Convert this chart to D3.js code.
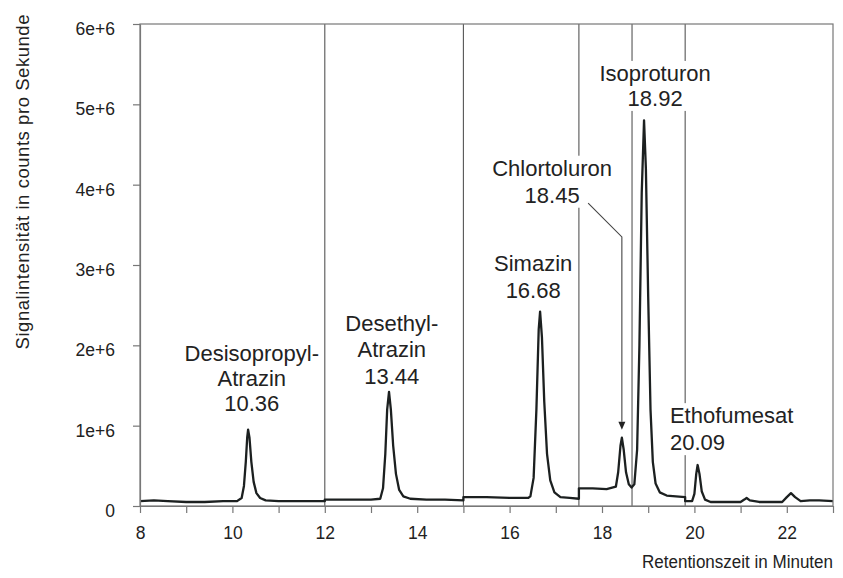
<!DOCTYPE html>
<html>
<head>
<meta charset="utf-8">
<script src="https://cdn.jsdelivr.net/npm/d3@7"></script>
<style>
  body { margin: 0; background: #fff; }
  svg { font-family: "Liberation Sans", Arial, sans-serif; }
</style>
</head>
<body>
<div id="chart"></div>
<script>

// chromatogram trace: retention time (min) and signal (in 1e6 counts/s)
const times = [
  8.00, 8.30, 8.60, 9.00, 9.40, 9.80, 10.10, 10.20, 10.25, 10.29, 10.32, 10.34, 10.37, 10.41, 10.46, 10.52, 10.60, 10.72, 11.00, 11.50, 12.00,
  12.00, 12.50, 13.00, 13.20, 13.26, 13.31, 13.35, 13.39, 13.43, 13.48, 13.54, 13.61, 13.70, 13.85, 14.20, 14.60, 15.00,
  15.00, 15.50, 16.00, 16.40, 16.45, 16.52, 16.58, 16.63, 16.66, 16.70, 16.75, 16.81, 16.88, 16.97, 17.10, 17.30, 17.50,
  17.50, 17.80, 18.10, 18.30, 18.35, 18.40, 18.43, 18.47, 18.52, 18.58, 18.64, 18.70, 18.76, 18.81, 18.86, 18.91, 18.95, 19.00, 19.05, 19.10, 19.16, 19.25, 19.40, 19.80,
  19.80, 19.95, 20.00, 20.04, 20.07, 20.11, 20.16, 20.23, 20.35, 20.60, 21.00, 21.08, 21.13, 21.20, 21.40, 21.90, 22.00, 22.09, 22.18, 22.30, 22.50, 22.70, 23.00
];
const signal = [
  0.06, 0.07, 0.06, 0.05, 0.05, 0.06, 0.06, 0.10, 0.25, 0.55, 0.85, 0.95, 0.85, 0.55, 0.30, 0.16, 0.10, 0.07, 0.06, 0.06, 0.06,
  0.08, 0.08, 0.08, 0.09, 0.22, 0.65, 1.20, 1.42, 1.20, 0.75, 0.40, 0.20, 0.12, 0.09, 0.08, 0.08, 0.07,
  0.11, 0.11, 0.10, 0.10, 0.12, 0.35, 1.20, 2.20, 2.42, 2.10, 1.30, 0.65, 0.32, 0.17, 0.11, 0.10, 0.09,
  0.22, 0.22, 0.21, 0.24, 0.42, 0.75, 0.85, 0.70, 0.42, 0.27, 0.23, 0.27, 0.70, 2.00, 3.90, 4.80, 4.20, 2.60, 1.20, 0.55, 0.28, 0.17, 0.13, 0.11,
  0.06, 0.06, 0.15, 0.40, 0.51, 0.40, 0.18, 0.08, 0.05, 0.05, 0.05, 0.08, 0.10, 0.07, 0.05, 0.05, 0.11, 0.16, 0.11, 0.06, 0.07, 0.07, 0.06
];

// acquisition segment borders (min)
const segmentBreaks = [12, 15, 17.5, 18.65, 19.8];

// peak labels
const compoundNames = [["Desisopropyl-", "Atrazin"], ["Desethyl-", "Atrazin"], ["Simazin"], ["Chlortoluron"], ["Isoproturon"], ["Ethofumesat"]];
const retentionTimes = ["10.36", "13.44", "16.68", "18.45", "18.92", "20.09"];

const yTicks = [0, 1, 2, 3, 4, 5, 6];
const xTicks = [8, 9, 10, 11, 12, 13, 14, 15, 16, 17, 18, 19, 20, 21, 22, 23];

// where the labels sit (data units of the first line)
const labelPos = [
  {t: 10.42, v: 1.905, gap: 25, anchor: "middle"},
  {t: 13.45, v: 2.28,  gap: 26.5, anchor: "middle"},
  {t: 16.51, v: 3.03,  gap: 27, anchor: "middle"},
  {t: 16.92, v: 4.21,  gap: 27, anchor: "middle"},
  {t: 19.15, v: 5.39,  gap: 25, anchor: "middle"},
  {t: 19.47, v: 1.13,  gap: 27, anchor: "start"}
];

// leader for Chlortoluron
const leader = [[17.70, 3.77], [18.43, 3.35], [18.43, 1.05]];

const width = 843;
const height = 578;
const margin = {left: 140, right: 10, top: 24, bottom: 72};

const svg = d3.select("#chart")
  .append("svg")
  .attr("width", width)
  .attr("height", height);

const x = d3.scaleLinear()
  .domain([8, 23])
  .range([margin.left, width - margin.right]);

const y = d3.scaleLinear()
  .domain([0, 6])
  .range([height - margin.bottom, margin.top]);

// segment lines
svg.append("g")
  .selectAll("line")
  .data(segmentBreaks)
  .enter()
  .append("line")
    .attr("x1", d => x(d))
    .attr("x2", d => x(d))
    .attr("y1", y(6))
    .attr("y2", y(0))
    .attr("stroke", "#555")
    .attr("stroke-width", 1.1);

// trace
const pts = times.map((t, i) => [t, signal[i]]);
svg.append("path")
  .datum(pts)
  .attr("fill", "none")
  .attr("stroke", "#1c2020")
  .attr("stroke-width", 2.3)
  .attr("stroke-linejoin", "round")
  .attr("d", d3.line().x(d => x(d[0])).y(d => y(d[1])));

// labels
compoundNames.forEach((names, i) => {
  const p = labelPos[i];
  const lines = names.concat([retentionTimes[i]]);
  const g = svg.append("g");
  g.selectAll("text")
    .data(lines)
    .enter()
    .append("text")
      .attr("x", x(p.t))
      .attr("y", (d, j) => y(p.v) + j * p.gap)
      .attr("dy", "0.36em")
      .attr("text-anchor", p.anchor)
      .attr("font-size", "22px")
      .attr("fill", "#222")
      .text(d => d);
  const bb = g.node().getBBox();
  g.insert("rect", "text")
    .attr("x", bb.x - 1)
    .attr("y", bb.y)
    .attr("width", bb.width + 2)
    .attr("height", bb.height)
    .attr("fill", "#fff");
});

// leader line + arrow
svg.append("path")
  .datum(leader)
  .attr("fill", "none")
  .attr("stroke", "#444")
  .attr("stroke-width", 1.1)
  .attr("d", d3.line().x(d => x(d[0])).y(d => y(d[1])));

const tip = leader[leader.length - 1];
svg.append("path")
  .attr("d", `M${x(tip[0]) - 3.5},${y(tip[1])} L${x(tip[0]) + 3.5},${y(tip[1])} L${x(tip[0])},${y(tip[1]) + 8} Z`)
  .attr("fill", "#222");

// frame
svg.append("rect")
  .attr("x", x(8))
  .attr("y", y(6))
  .attr("width", x(23) - x(8))
  .attr("height", y(0) - y(6))
  .attr("fill", "none")
  .attr("stroke", "#777")
  .attr("stroke-width", 1.2);

// axes
const yAxis = svg.append("g")
  .attr("transform", `translate(${margin.left},0)`)
  .call(d3.axisLeft(y)
    .tickValues(yTicks)
    .tickSize(7)
    .tickSizeOuter(0)
    .tickPadding(18)
    .tickFormat(d => d === 0 ? "0" : d + "e+6"));

const xAxis = svg.append("g")
  .attr("transform", `translate(0,${height - margin.bottom})`)
  .call(d3.axisBottom(x)
    .tickValues(xTicks)
    .tickSize(7)
    .tickSizeOuter(0)
    .tickPadding(14)
    .tickFormat(d => d % 2 === 0 ? d : ""));

[yAxis, xAxis].forEach(a => {
  a.select(".domain").attr("stroke", "#777").attr("stroke-width", 1.2);
  a.selectAll(".tick line").attr("stroke", "#777").attr("stroke-width", 1.2);
  a.selectAll("text")
    .attr("font-size", "17.5px")
    .attr("fill", "#222")
    .attr("font-family", "Liberation Sans, Arial, sans-serif");
});
yAxis.selectAll("text").attr("y", 5);

// axis titles
svg.append("text")
  .attr("x", width - margin.right)
  .attr("y", 562)
  .attr("dy", "0.35em")
  .attr("text-anchor", "end")
  .attr("font-size", "17.5px")
  .attr("textLength", 191)
  .attr("lengthAdjust", "spacingAndGlyphs")
  .attr("fill", "#222")
  .text("Retentionszeit in Minuten");

svg.append("text")
  .attr("transform", "rotate(-90)")
  .attr("x", -182)
  .attr("y", 23)
  .attr("dy", "0.35em")
  .attr("text-anchor", "middle")
  .attr("font-size", "18.5px")
  .attr("textLength", 335)
  .attr("lengthAdjust", "spacing")
  .attr("fill", "#222")
  .text("Signalintensität in counts pro Sekunde");

</script>
</body>
</html>
